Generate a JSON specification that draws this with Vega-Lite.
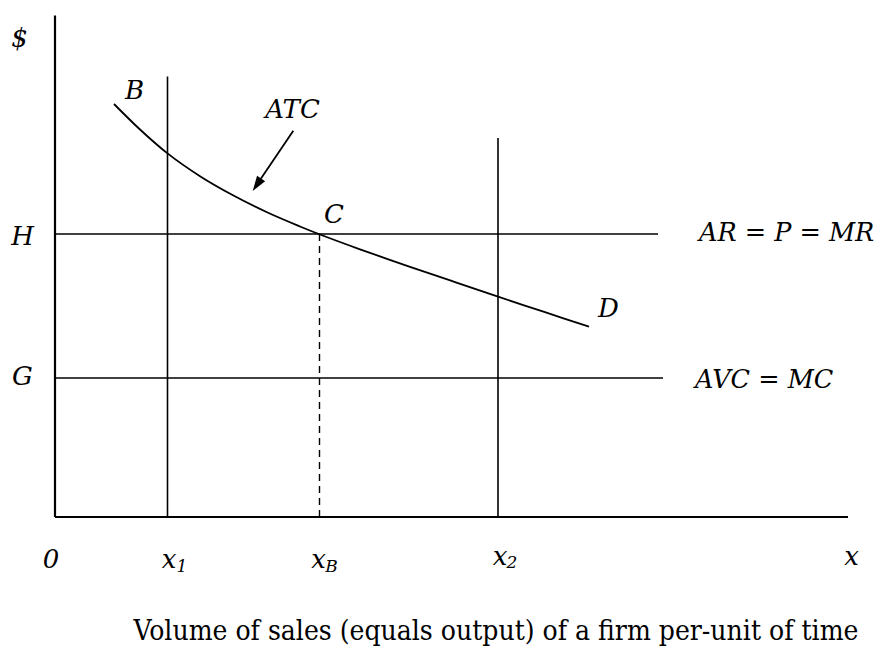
{
  "$schema": "https://vega.github.io/schema/vega-lite/v6.json",
  "width": 885,
  "height": 646,
  "autosize": {"type": "fit", "contains": "padding"},
  "padding": 0,
  "background": "white",
  "config": {"view": {"stroke": null}},
  "datasets": {
    "axes": [
      {"x": 0, "x2": 0, "y": 0, "y2": 100.3},
      {"x": 0, "x2": 158.6, "y": 0, "y2": 0}
    ],
    "lines": [
      {"x": 0, "x2": 120.6, "y": 56.6, "y2": 56.6},
      {"x": 0, "x2": 121.6, "y": 27.8, "y2": 27.8},
      {"x": 22.5, "x2": 22.5, "y": 0, "y2": 88.1},
      {"x": 88.6, "x2": 88.6, "y": 0, "y2": 75.8}
    ],
    "dashed": [
      {"x": 52.9, "x2": 52.9, "y": 0, "y2": 56.6}
    ],
    "atc": [
      {"x": 11.8, "y": 82.6},
      {"x": 17.0, "y": 77.5},
      {"x": 22.5, "y": 72.72},
      {"x": 29.0, "y": 68.16},
      {"x": 35.6, "y": 64.34},
      {"x": 42.4, "y": 60.94},
      {"x": 49.0, "y": 58.1},
      {"x": 53.0, "y": 56.5},
      {"x": 61.0, "y": 53.54},
      {"x": 71.0, "y": 50.04},
      {"x": 80.0, "y": 46.98},
      {"x": 88.6, "y": 44.06},
      {"x": 98.0, "y": 40.96},
      {"x": 106.8, "y": 38.06}
    ],
    "shaft": [
      {"x": 47.66, "x2": 41.2, "y": 77.26, "y2": 67.7}
    ],
    "head": [
      {"x": 40.38, "y": 66.44}
    ],
    "labels": [
      {"text": "$", "x": -7.1, "y": 94.0},
      {"text": "B", "x": 15.9, "y": 83.6},
      {"text": "ATC", "x": 47.5, "y": 79.9},
      {"text": "C", "x": 55.8, "y": 58.8},
      {"text": "H", "x": -6.5, "y": 54.4},
      {"text": "G", "x": -6.5, "y": 26.4},
      {"text": "D", "x": 110.7, "y": 40.0},
      {"text": "0", "x": -0.8, "y": -10.2},
      {"text": "x", "x": 22.8, "y": -10.2},
      {"text": "x", "x": 52.7, "y": -10.2},
      {"text": "x", "x": 89.0, "y": -9.6},
      {"text": "x", "x": 159.3, "y": -9.6}
    ],
    "sidelabels": [
      {"text": "AR = P = MR", "x": 128.8, "y": 55.2},
      {"text": "AVC = MC", "x": 128.0, "y": 25.8}
    ],
    "subs": [
      {"text": "1", "x": 25.4, "y": -11.0},
      {"text": "B", "x": 55.3, "y": -11.0},
      {"text": "2", "x": 91.4, "y": -10.2}
    ],
    "caption": [
      {"text": "Volume of sales (equals output) of a firm per-unit of time", "x": 88.2, "y": -24.6}
    ]
  },
  "encoding": {
    "x": {"field": "x", "type": "quantitative", "scale": {"domain": [-11, 166], "nice": false, "zero": false}, "axis": null},
    "y": {"field": "y", "type": "quantitative", "scale": {"domain": [-25.8, 103.4], "nice": false, "zero": false}, "axis": null}
  },
  "layer": [
    {
      "data": {"name": "axes"},
      "mark": {"type": "rule", "color": "black", "strokeWidth": 2.2},
      "encoding": {"x2": {"field": "x2"}, "y2": {"field": "y2"}}
    },
    {
      "data": {"name": "lines"},
      "mark": {"type": "rule", "color": "black", "strokeWidth": 1.6},
      "encoding": {"x2": {"field": "x2"}, "y2": {"field": "y2"}}
    },
    {
      "data": {"name": "dashed"},
      "mark": {"type": "rule", "color": "black", "strokeWidth": 1.4, "strokeDash": [7, 5]},
      "encoding": {"x2": {"field": "x2"}, "y2": {"field": "y2"}}
    },
    {
      "data": {"name": "atc"},
      "mark": {"type": "line", "color": "black", "strokeWidth": 1.8, "interpolate": "catmull-rom"},
      "encoding": {}
    },
    {
      "data": {"name": "shaft"},
      "mark": {"type": "rule", "color": "black", "strokeWidth": 1.8},
      "encoding": {"x2": {"field": "x2"}, "y2": {"field": "y2"}}
    },
    {
      "data": {"name": "head"},
      "mark": {"type": "point", "shape": "M0,-1L-0.65,1L0.65,1Z", "filled": true, "color": "black", "opacity": 1, "size": 225, "angle": 214, "strokeWidth": 0}
    },
    {
      "data": {"name": "labels"},
      "mark": {"type": "text", "font": "DejaVu Serif", "fontStyle": "italic", "fontSize": 26, "align": "center", "baseline": "alphabetic", "color": "black"},
      "encoding": {"text": {"field": "text"}}
    },
    {
      "data": {"name": "sidelabels"},
      "mark": {"type": "text", "font": "DejaVu Serif", "fontStyle": "italic", "fontSize": 25.5, "align": "left", "baseline": "alphabetic", "color": "black"},
      "encoding": {"text": {"field": "text"}}
    },
    {
      "data": {"name": "subs"},
      "mark": {"type": "text", "font": "DejaVu Serif", "fontStyle": "italic", "fontSize": 17, "align": "center", "baseline": "alphabetic", "color": "black"},
      "encoding": {"text": {"field": "text"}}
    },
    {
      "data": {"name": "caption"},
      "mark": {"type": "text", "font": "DejaVu Serif Condensed, DejaVu Serif", "fontSize": 28, "align": "center", "baseline": "alphabetic", "color": "black"},
      "encoding": {"text": {"field": "text"}}
    }
  ]
}
